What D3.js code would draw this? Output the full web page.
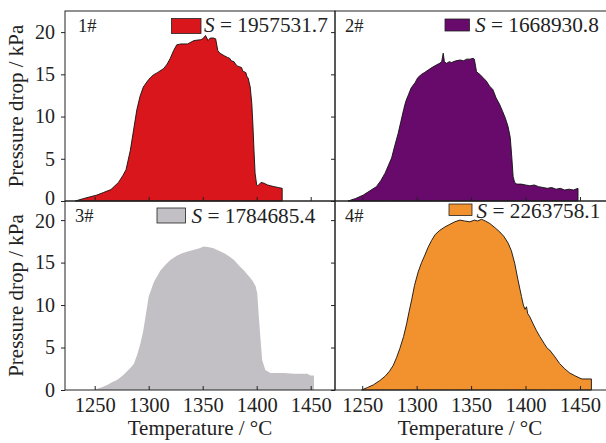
<!DOCTYPE html>
<html><head><meta charset="utf-8">
<script src="https://cdn.jsdelivr.net/npm/d3@7"></script>
<style>
body{margin:0;background:#fff;overflow:hidden}
text{font-family:"Liberation Serif","Times New Roman",serif;fill:#222}
</style>
</head><body>
<svg id="c" width="606" height="443"></svg>
<script>
// ---- data ----
const sampleNames = ["1#", "2#", "3#", "4#"];
const areaValues = ["1957531.7", "1668930.8", "1784685.4", "2263758.1"];
const xTicks = [1250, 1300, 1350, 1400, 1450];
const yTicks = [0, 5, 10, 15, 20];

const t1 = [1232,1240,1252,1258,1265,1272,1276,1279,1283,1286,1289,1292,1295,1300,1304,1308,1314,1317,1320,1323,1326,1330,1336,1342,1348,1350,1352.6,1355,1357,1360,1362,1364,1366,1370,1373,1375,1376.5,1379,1381,1382,1384,1386,1387,1390,1391,1392,1394,1395.5,1396.5,1397.5,1398.5,1400,1401,1404,1407,1410,1413,1416,1420,1423.6];
const p1 = [0,0.3,0.7,1.0,1.35,2.2,3.0,3.7,6.0,8.4,10.8,12.4,13.5,14.4,14.9,15.2,15.7,16.2,16.9,17.8,18.5,18.6,18.6,19.0,19.1,19.2,19.6,19.0,19.3,19.3,19.2,17.8,17.5,17.2,17.0,16.9,16.6,16.5,16.1,16.0,15.9,15.8,15.4,15.2,14.7,14.6,13.5,11.5,9.0,6.0,3.3,1.9,1.8,2.2,2.1,1.9,1.8,1.7,1.6,1.5];

const t2 = [1237,1244,1251,1257,1263,1267,1271,1274,1277,1280,1283,1285.5,1288,1290,1292.5,1295,1298.5,1301,1304.5,1307,1310.5,1314,1318,1321,1323,1324.4,1325.5,1327.5,1330,1332,1336,1340,1343,1346,1349,1352,1353,1355,1358,1361,1364,1367,1370,1373,1376,1379,1381.5,1384,1386,1387.5,1388.6,1390,1392,1396,1400,1404,1408,1412,1416,1420,1424,1428,1432,1436,1440,1444,1448.2];
const p2 = [0,0.3,0.7,1.2,1.7,2.4,3.3,4.2,5.1,6.6,8.0,9.4,10.8,11.8,12.6,13.4,14.0,14.6,15.0,15.2,15.5,15.8,16.1,16.3,16.5,17.5,16.5,16.3,16.5,16.4,16.6,16.7,16.6,16.8,16.8,16.9,16.8,15.3,15.0,14.6,14.2,13.6,13.2,12.2,11.5,10.6,9.8,8.8,7.5,5.0,2.9,2.2,2.0,2.0,1.9,1.8,1.9,1.7,1.6,1.5,1.6,1.4,1.5,1.3,1.4,1.3,1.5];

const t3 = [1250.8,1256,1261.6,1266,1271,1276,1280,1283,1286.3,1289.5,1292.4,1295,1297,1300,1304.8,1311,1316,1320,1326,1331,1336,1342,1347,1351,1356,1360,1365,1370,1375,1379,1384,1388,1392,1396,1399,1400.5,1402,1403.6,1405.1,1408,1412.8,1420,1425,1435,1446.8,1449.8,1453];
const p3 = [0.1,0.3,0.6,0.9,1.2,1.7,2.2,2.6,3.1,4.2,5.5,7.0,8.6,11.0,12.7,14.1,14.8,15.3,15.8,16.1,16.3,16.5,16.7,16.9,16.8,16.7,16.4,16.1,15.7,15.3,14.6,14.1,13.5,12.9,12.2,11.4,8.6,5.9,3.5,2.35,2.0,2.0,2.0,1.9,1.9,1.7,1.7];

const t4 = [1249.5,1255,1260.2,1266,1270.9,1275,1278.5,1281.5,1284.6,1288,1290.8,1293,1295.4,1298,1301.4,1304.5,1307.6,1310.5,1313.7,1317,1321.3,1326,1330.5,1335,1339.7,1344,1348.9,1353,1356,1359.6,1363,1367.2,1372,1376.4,1380,1384,1387,1390.1,1393,1396.3,1398,1399.5,1400.9,1402,1404,1406.9,1410,1413.1,1417,1420,1422.2,1427,1431.4,1436,1440.6,1445,1449.8,1452,1460.5];
const p4 = [0,0.3,0.6,1.1,1.6,2.2,2.9,3.8,4.9,6.3,7.8,9.2,10.6,12.3,13.9,15.0,15.9,16.8,17.6,18.3,18.8,19.2,19.5,19.8,20.0,19.9,19.8,20.0,19.9,20.1,19.9,19.6,19.1,18.6,18.1,17.3,16.4,14.9,13.0,11.0,10.0,9.5,9.8,9.0,8.6,7.8,7.0,6.3,5.5,4.9,4.7,3.9,3.1,2.5,2.0,1.7,1.4,1.3,1.3];

const temps = [t1, t2, t3, t4];
const drops = [p1, p2, p3, p4];
const fills = ["#d8161b", "#680a6c", "#c3c0c5", "#f2922f"];

// ---- layout ----
const panels = [
  {x0:65, x1:335, fx1:335, yTop:11, yBot:201, xd:[1222.5,1472.5], yd:[0,22.5], left:true, bottom:false, outline:true,
   sw:[171.5,18.5,29.5,15], tx:204, ty:31.5, lx:78, ly:31.5},
  {x0:335, x1:605, fx1:610, yTop:11, yBot:201, xd:[1225,1473], yd:[0,22.5], left:false, bottom:false, outline:true,
   sw:[445,19,24.5,12], tx:475, ty:31.5, lx:345, ly:31.5},
  {x0:65, x1:335, fx1:335, yTop:201, yBot:390, xd:[1222.5,1472.5], yd:[0,22.25], left:true, bottom:true, outline:false,
   sw:[157,208,28.5,15], tx:191.5, ty:223, lx:75, ly:221.5},
  {x0:335, x1:605, fx1:610, yTop:201, yBot:390, xd:[1225,1473], yd:[0,22.25], left:false, bottom:true, outline:true,
   sw:[449,204,23,11.5], tx:476.5, ty:218, lx:345, ly:221.5}
];

const svg = d3.select("#c");
const FONT = '"Liberation Serif","Times New Roman",serif';

panels.forEach((pn, i) => {
  const x = d3.scaleLinear().domain(pn.xd).range([pn.x0, pn.x1]);
  const y = d3.scaleLinear().domain(pn.yd).range([pn.yBot, pn.yTop]);
  const data = temps[i].map((t, k) => ({t, p: drops[i][k]}));
  const g = svg.append("g");

  const area = d3.area().x(d => x(d.t)).y0(y(0)).y1(d => y(d.p));
  g.append("path").datum(data).attr("d", area)
    .attr("fill", fills[i])
    .attr("stroke", pn.outline ? "#111" : "none")
    .attr("stroke-width", 0.9)
    .attr("stroke-linejoin", "round");

  // y axis
  const ya = d3.axisLeft(y).tickValues(yTicks).tickSize(4).tickPadding(6)
    .tickFormat(pn.left ? d3.format("d") : () => "");
  const yg = g.append("g").attr("transform", `translate(${pn.x0},0)`).call(ya);
  yg.select(".domain").remove();
  yg.selectAll("line").attr("stroke", "#222");
  yg.selectAll("text").attr("font-size", 20).attr("fill", "#222").attr("font-family", FONT);
  // nudge the crowded labels where the two stacked panels meet
  if (pn.left && !pn.bottom) yg.selectAll(".tick").filter(d => d === 0).select("text").attr("y", -3);
  if (pn.left && pn.bottom) yg.selectAll(".tick").filter(d => d === 20).select("text").attr("y", 1);

  // x axis (inward ticks)
  const xa = d3.axisBottom(x).tickValues(xTicks).tickSizeInner(-4).tickSizeOuter(0).tickPadding(7)
    .tickFormat(pn.bottom ? d3.format("d") : () => "");
  const xg = g.append("g").attr("transform", `translate(0,${pn.yBot})`).call(xa);
  xg.select(".domain").remove();
  xg.selectAll("line").attr("stroke", "#222");
  xg.selectAll("text").attr("font-size", 20.5).attr("fill", "#222").attr("font-family", FONT);

  // frame
  g.append("rect").attr("x", pn.x0).attr("y", pn.yTop)
    .attr("width", pn.fx1 - pn.x0).attr("height", pn.yBot - pn.yTop)
    .attr("fill", "none").attr("stroke", "#222").attr("stroke-width", 1);

  // sample label
  g.append("text").attr("x", pn.lx).attr("y", pn.ly).attr("font-size", 18.5).text(sampleNames[i]);

  // legend
  g.append("rect").attr("x", pn.sw[0]).attr("y", pn.sw[1]).attr("width", pn.sw[2]).attr("height", pn.sw[3])
    .attr("fill", fills[i]).attr("stroke", "#222").attr("stroke-width", 0.8);
  const lt = g.append("text").attr("x", pn.tx).attr("y", pn.ty).attr("font-size", 21.3);
  lt.append("tspan").attr("font-style", "italic").text("S");
  lt.append("tspan").text(" = " + areaValues[i]);

  // axis titles
  if (pn.left) {
    g.append("text").attr("transform", `translate(23,${(pn.yTop + pn.yBot) / 2}) rotate(-90)`)
      .attr("text-anchor", "middle").attr("font-size", 21).text("Pressure drop / kPa");
  }
  if (pn.bottom) {
    g.append("text").attr("x", (pn.x0 + pn.x1) / 2).attr("y", 434.5)
      .attr("text-anchor", "middle").attr("font-size", 21).text("Temperature / °C");
  }
});
</script>
</body></html>
